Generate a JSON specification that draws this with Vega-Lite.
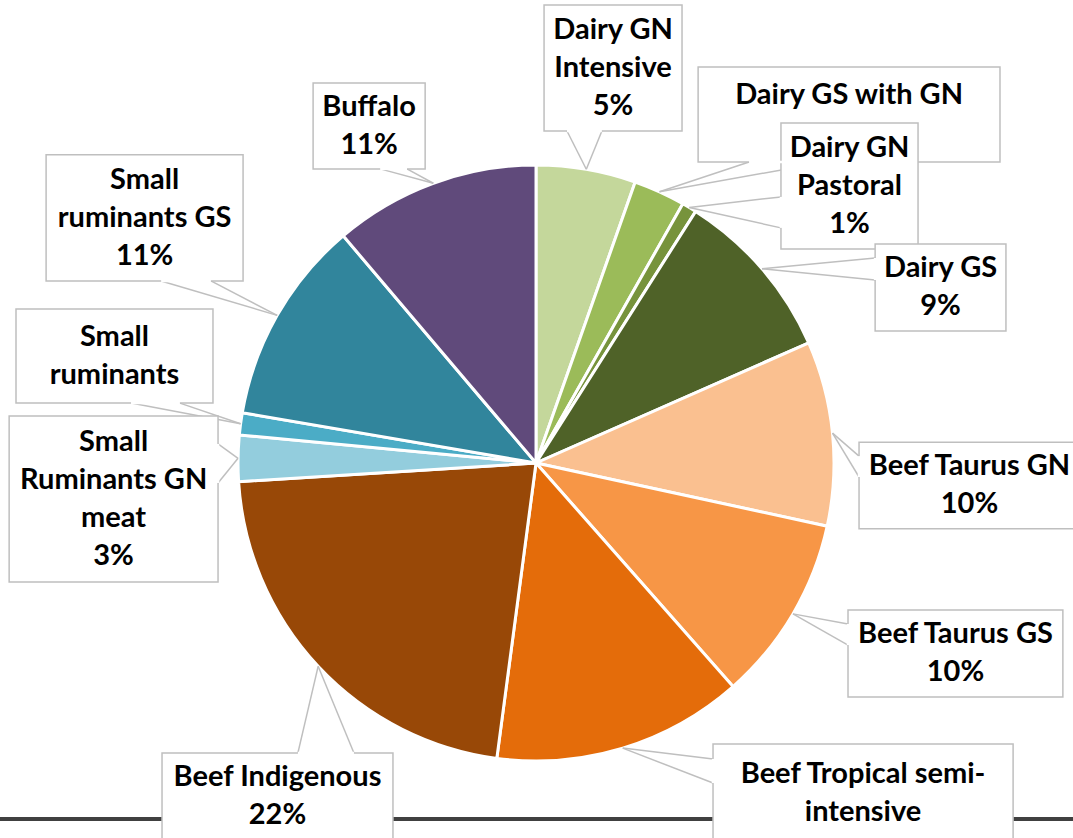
{
  "$schema": "https://vega.github.io/schema/vega-lite/v6.json",
  "width": 1073,
  "height": 838,
  "padding": 0,
  "autosize": {"type": "none"},
  "background": "white",
  "config": {"view": {"stroke": null}},
  "data": {
    "values": [
      {"name": "Dairy GN Intensive", "value": 5.4, "label": "Dairy GN\nIntensive\n5%", "x1": 2.7, "x2": 49.0, "y1": 153.7, "y2": 111.4, "wax": 10.4, "way": 111.4, "wbx": 22.1, "wby": 111.4},
      {"name": "Dairy GS with GN", "value": 2.8, "label": "Dairy GS with GN\n ", "x1": 54.4, "x2": 155.7, "y1": 132.9, "y2": 101.0, "wax": 71.5, "way": 101.0, "wbx": 97.3, "wby": 101.0},
      {"name": "Dairy GN Pastoral", "value": 0.8, "label": "Dairy GN\nPastoral\n1%", "x1": 82.2, "x2": 128.2, "y1": 114.1, "y2": 71.8, "wax": 82.2, "way": 89.3, "wbx": 82.2, "wby": 78.9},
      {"name": "Dairy GS", "value": 9.4, "label": "Dairy GS\n9%", "x1": 113.8, "x2": 157.7, "y1": 73.5, "y2": 44.3, "wax": 113.8, "way": 68.8, "wbx": 113.8, "wby": 61.4},
      {"name": "Beef Taurus GN", "value": 10.0, "label": "Beef Taurus GN\n10%", "x1": 108.4, "x2": 182.5, "y1": 7.0, "y2": -22.1, "wax": 108.4, "way": 2.3, "wbx": 108.4, "wby": -4.7},
      {"name": "Beef Taurus GS", "value": 10.1, "label": "Beef Taurus GS\n10%", "x1": 104.7, "x2": 176.8, "y1": -49.3, "y2": -78.5, "wax": 104.7, "way": -54.0, "wbx": 104.7, "wby": -61.1},
      {"name": "Beef Tropical semi-intensive", "value": 13.6, "label": "Beef Tropical semi-\nintensive\n14%", "x1": 59.4, "x2": 160.1, "y1": -94.3, "y2": -139.9, "wax": 59.4, "way": -99.3, "wbx": 59.4, "wby": -107.4},
      {"name": "Beef Indigenous", "value": 21.9, "label": "Beef Indigenous\n22%", "x1": -125.5, "x2": -48.0, "y1": -97.3, "y2": -126.5, "wax": -79.9, "way": -97.3, "wbx": -61.1, "wby": -97.3},
      {"name": "Small Ruminants GN meat", "value": 2.5, "label": "Small\nRuminants GN\nmeat\n3%", "x1": -176.8, "x2": -106.7, "y1": 15.8, "y2": -39.9, "wax": -106.7, "way": 6.4, "wbx": -106.7, "wby": -6.7},
      {"name": "Small ruminants", "value": 1.2, "label": "Small\nruminants", "x1": -174.5, "x2": -108.4, "y1": 51.7, "y2": 20.1, "wax": -135.9, "way": 20.1, "wbx": -119.5, "wby": 20.1},
      {"name": "Small ruminants GS", "value": 11.1, "label": "Small\nruminants GS\n11%", "x1": -164.4, "x2": -98.3, "y1": 103.4, "y2": 61.1, "wax": -125.8, "way": 61.1, "wbx": -109.1, "wby": 61.1},
      {"name": "Buffalo", "value": 11.2, "label": "Buffalo\n11%", "x1": -74.8, "x2": -37.2, "y1": 127.5, "y2": 98.7, "wax": -52.3, "way": 98.7, "wbx": -43.3, "wby": 98.7}
    ]
  },
  "transform": [
    {"window": [{"op": "row_number", "as": "idx"}]},
    {"window": [{"op": "sum", "field": "value", "as": "cum"}], "sort": [{"field": "idx"}], "frame": [null, 0]},
    {"joinaggregate": [{"op": "sum", "field": "value", "as": "total"}]},
    {"calculate": "2*PI*(datum.cum - datum.value/2)/datum.total", "as": "mid"},
    {"calculate": "100*sin(datum.mid)", "as": "tx"},
    {"calculate": "100*cos(datum.mid)", "as": "ty"},
    {"calculate": "(datum.x1+datum.x2)/2", "as": "cx"},
    {"calculate": "(datum.y1+datum.y2)/2 + (split(datum.label, '\\n').length - 1) * 6.376", "as": "cy"}
  ],
  "layer": [
    {
      "mark": {"type": "rule", "stroke": "#404040", "strokeWidth": 3},
      "encoding": {
        "y": {"datum": -119.5, "type": "quantitative", "scale": {"domain": [-125.84, 155.37], "nice": false, "zero": false}, "axis": null}
      }
    },
    {
      "mark": {"type": "arc", "outerRadius": 298, "stroke": "white", "strokeWidth": 3},
      "encoding": {
        "theta": {"field": "value", "type": "quantitative", "stack": true},
        "order": {"field": "idx", "type": "quantitative"},
        "color": {
          "field": "name", "type": "nominal", "legend": null,
          "scale": {
            "domain": ["Dairy GN Intensive", "Dairy GS with GN", "Dairy GN Pastoral", "Dairy GS", "Beef Taurus GN", "Beef Taurus GS", "Beef Tropical semi-intensive", "Beef Indigenous", "Small Ruminants GN meat", "Small ruminants", "Small ruminants GS", "Buffalo"],
            "range": ["#c4d79b", "#9bbb59", "#77933c", "#4f6228", "#fac090", "#f79646", "#e46c0a", "#984807", "#93cddd", "#4bacc6", "#31859c", "#604a7b"]
          }
        },
        "x": {"datum": 0, "type": "quantitative", "scale": {"domain": [-179.87, 180.2], "nice": false, "zero": false}, "axis": null},
        "y": {"datum": 0, "type": "quantitative", "scale": {"domain": [-125.84, 155.37], "nice": false, "zero": false}, "axis": null}
      }
    },
    {
      "mark": {"type": "rule", "stroke": "#bfbfbf", "strokeWidth": 1.5},
      "encoding": {
        "x": {"field": "wax", "type": "quantitative", "scale": {"domain": [-179.87, 180.2], "nice": false, "zero": false}, "axis": null},
        "y": {"field": "way", "type": "quantitative", "scale": {"domain": [-125.84, 155.37], "nice": false, "zero": false}, "axis": null},
        "x2": {"field": "tx"},
        "y2": {"field": "ty"}
      }
    },
    {
      "mark": {"type": "rule", "stroke": "#bfbfbf", "strokeWidth": 1.5},
      "encoding": {
        "x": {"field": "wbx", "type": "quantitative", "scale": {"domain": [-179.87, 180.2], "nice": false, "zero": false}, "axis": null},
        "y": {"field": "wby", "type": "quantitative", "scale": {"domain": [-125.84, 155.37], "nice": false, "zero": false}, "axis": null},
        "x2": {"field": "tx"},
        "y2": {"field": "ty"}
      }
    },
    {
      "mark": {"type": "rect", "fill": "white", "stroke": "#bfbfbf", "strokeWidth": 1.5},
      "encoding": {
        "x": {"field": "x1", "type": "quantitative", "scale": {"domain": [-179.87, 180.2], "nice": false, "zero": false}, "axis": null},
        "y": {"field": "y1", "type": "quantitative", "scale": {"domain": [-125.84, 155.37], "nice": false, "zero": false}, "axis": null},
        "x2": {"field": "x2"},
        "y2": {"field": "y2"}
      }
    },
    {
      "mark": {"type": "rule", "stroke": "white", "strokeWidth": 2.5},
      "encoding": {
        "x": {"field": "wax", "type": "quantitative", "scale": {"domain": [-179.87, 180.2], "nice": false, "zero": false}, "axis": null},
        "y": {"field": "way", "type": "quantitative", "scale": {"domain": [-125.84, 155.37], "nice": false, "zero": false}, "axis": null},
        "x2": {"field": "wbx"},
        "y2": {"field": "wby"}
      }
    },
    {
      "mark": {"type": "text", "font": "Lato", "fontWeight": "bold", "fontSize": 29, "lineHeight": 38, "lineBreak": "\n", "align": "center", "baseline": "middle", "color": "black"},
      "encoding": {
        "x": {"field": "cx", "type": "quantitative", "scale": {"domain": [-179.87, 180.2], "nice": false, "zero": false}, "axis": null},
        "y": {"field": "cy", "type": "quantitative", "scale": {"domain": [-125.84, 155.37], "nice": false, "zero": false}, "axis": null},
        "text": {"field": "label"}
      }
    }
  ]
}
